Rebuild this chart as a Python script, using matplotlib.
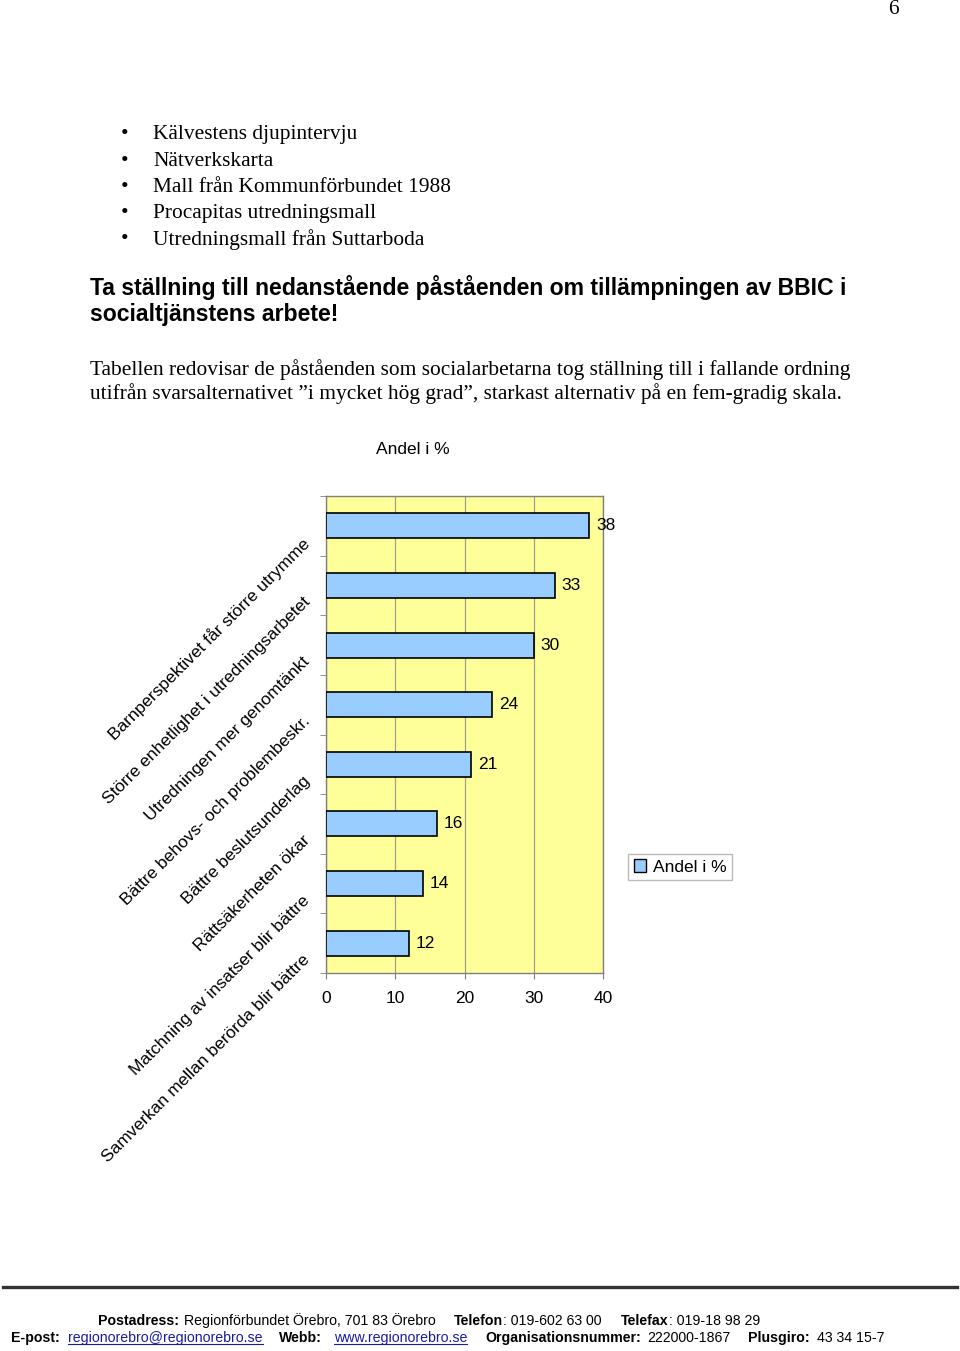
import matplotlib
matplotlib.use("Agg")
import matplotlib.pyplot as plt
import matplotlib.transforms as mtransforms
import numpy as np
from matplotlib.lines import Line2D
from matplotlib.patches import Patch

# Chart data
categories = [
    "Barnperspektivet får större utrymme",
    "Större enhetlighet i utredningsarbetet",
    "Utredningen mer genomtänkt",
    "Bättre behovs- och problembeskr.",
    "Bättre beslutsunderlag",
    "Rättsäkerheten ökar",
    "Matchning av insatser blir bättre",
    "Samverkan mellan berörda blir bättre",
]
values = [38, 33, 30, 24, 21, 16, 14, 12]
x_ticks = [0, 10, 20, 30, 40]
series_name = "Andel i %"

# Page text
bullets = [
    "Kälvestens djupintervju",
    "Nätverkskarta",
    "Mall från Kommunförbundet 1988",
    "Procapitas utredningsmall",
    "Utredningsmall från Suttarboda",
]
heading = [
    "Ta ställning till nedanstående påståenden om tillämpningen av BBIC i",
    "socialtjänstens arbete!",
]
paragraph = [
    "Tabellen redovisar de påståenden som socialarbetarna tog ställning till i fallande ordning",
    "utifrån svarsalternativet \u201di mycket hög grad\u201d, starkast alternativ på en fem-gradig skala.",
]

W, H = 960, 1351
fig = plt.figure(figsize=(W / 100, H / 100), dpi=100)


def fx(px):
    return px / W


def fy(py):
    return 1 - py / H


serif = "Liberation Serif"
sans = "Liberation Sans"
bar_color = "#99CCFF"
chart_fs = 12.5

fig.text(fx(893), fy(9), "6", family=serif, fontsize=15.4, ha="center", va="center")

for i, b in enumerate(bullets):
    y = 135 + i * 26.2
    fig.text(fx(125), fy(y), "\u2022", family=serif, fontsize=15.4, ha="center", va="center")
    fig.text(fx(153), fy(y), b, family=serif, fontsize=15.4, ha="left", va="center")

for i, line in enumerate(heading):
    fig.text(fx(90), fy(287 + i * 27), line, family=sans, fontsize=16.6,
             fontweight="bold", ha="left", va="center")

for i, line in enumerate(paragraph):
    fig.text(fx(90), fy(370 + i * 24), line, family=serif, fontsize=15.4,
             ha="left", va="center")

# Chart
fig.text(fx(413), fy(449), series_name, family=sans, fontsize=chart_fs, ha="center", va="center")

ax = fig.add_axes([fx(326), fy(973), (603 - 326) / W, (973 - 496) / H])
ax.set_facecolor("#FFFF99")
ypos = np.arange(len(categories))
bars = ax.barh(ypos, values, height=0.42, color=bar_color, edgecolor="black",
               linewidth=1.2, label=series_name, zorder=3)
ax.set_xlim(0, 40)
ax.set_ylim(len(categories) - 0.5, -0.5)
ax.set_xticks(x_ticks)
ax.set_xticklabels([str(t) for t in x_ticks], family=sans, fontsize=chart_fs)
ax.tick_params(axis="x", length=4, color="#808080", pad=9)
ax.grid(axis="x", color="#a0a090", linewidth=0.9)
ax.set_axisbelow(True)
for s in ax.spines.values():
    s.set_color("#808080")
    s.set_linewidth(1.0)

for b, v in zip(bars, values):
    ax.annotate(f"{v}", (v, b.get_y() + b.get_height() / 2), xytext=(5, 0),
                textcoords="offset points", ha="left", va="center",
                fontsize=chart_fs, family=sans, annotation_clip=False)

ax.set_yticks(ypos)
ax.set_yticklabels(categories, rotation=45, ha="right", va="top",
                   fontsize=chart_fs, family=sans, rotation_mode="default")
ax.tick_params(axis="y", which="major", length=0, pad=9.5)
ax.set_yticks(np.arange(len(categories) + 1) - 0.5, minor=True)
ax.tick_params(axis="y", which="minor", length=4, color="#808080")
shift = mtransforms.ScaledTranslation(0, -9 / 100, fig.dpi_scale_trans)
for lab in ax.get_yticklabels():
    lab.set_transform(lab.get_transform() + shift)

fig.legend(handles=[Patch(facecolor=bar_color, edgecolor="black")], labels=[series_name],
           loc="center", bbox_to_anchor=(fx(680), fy(867)), frameon=True,
           fancybox=False, edgecolor="#aaaaaa", handlelength=0.7, handleheight=0.7,
           prop={"family": sans, "size": chart_fs}, borderpad=0.3, handletextpad=0.4)

# Footer
fig.add_artist(Line2D([fx(3), fx(957)], [fy(1287), fy(1287)], color="#333333", linewidth=2.4))

# x=None -> directly after the previous piece
footer = [
    (98, 1321, "Postadress:", "bold", False),
    (184, 1321, "Regionförbundet Örebro, 701 83 Örebro", "normal", False),
    (454, 1321, "Telefon", "bold", False),
    (None, 1321, ": 019-602 63 00", "normal", False),
    (621, 1321, "Telefax", "bold", False),
    (None, 1321, ": 019-18 98 29", "normal", False),
    (11, 1338, "E-post:", "bold", False),
    (68, 1338, "regionorebro@regionorebro.se", "normal", True),
    (279, 1338, "Webb:", "bold", False),
    (334, 1338, "www.regionorebro.se", "normal", True),
    (485, 1338, "Organisationsnummer:", "bold", False),
    (647, 1338, "222000-1867", "normal", False),
    (748, 1338, "Plusgiro:", "bold", False),
    (817, 1338, "43 34 15-7", "normal", False),
]
fig.canvas.draw()
renderer = fig.canvas.get_renderer()
prev = None
for x, y, t, w, link in footer:
    xpos = fx(x) if x is not None else prev.get_window_extent(renderer).x1 / W
    txt = fig.text(xpos, fy(y), t, family=sans, fontsize=10.2, fontweight=w,
                   color="#1a1aa8" if link else "black", ha="left", va="center")
    if link:
        bb = txt.get_window_extent(renderer)
        fig.add_artist(Line2D([bb.x0 / W, bb.x1 / W], [(bb.y0 + 1) / H] * 2,
                              color="#1a1aa8", linewidth=0.8))
    prev = txt

fig.savefig("out.png", dpi=100)
